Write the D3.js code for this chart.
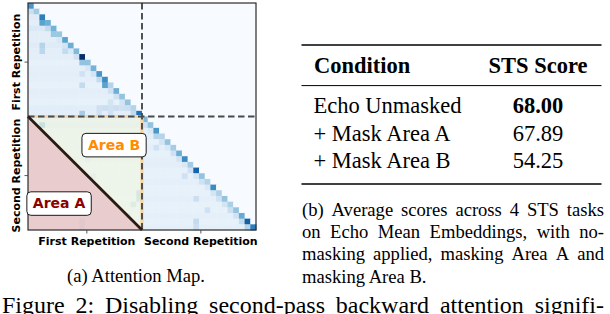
<!DOCTYPE html>
<html><head><meta charset="utf-8">
<script src="https://cdn.jsdelivr.net/npm/d3@7"></script>
<style>html,body{margin:0;padding:0;background:#fff} svg{display:block}</style>
</head><body>
<svg id="c" width="610" height="314"></svg>
<script>
// ---------------- data ----------------
const nTokens = 40;            // 20 tokens per repetition
const diagFirst  = [0.60,0.36,0.70,0.50,0.48,0.38,0.55,0.50,0.45,1.00,0.40,0.48,0.60,0.65,0.30,0.50,0.40,0.40,0.30,0.75];
const subDiagFirst = [0.22,0.12,0.55,0.25,0.38,0.15,0.18,0.15,0.20,0.40,0.15,0.18,0.25,0.55,0.20,0.20,0.18,0.22,0.25];
const diagSecond = [0.45,0.40,0.60,0.30,0.40,0.35,0.50,0.65,0.35,0.80,0.40,0.30,0.65,0.32,0.40,0.33,0.40,0.52,0.82,0.70];
const subDiagSecond = [0.20,0.15,0.30,0.18,0.15,0.20,0.18,0.15,0.20,0.18,0.20,0.15,0.18,0.20,0.18,0.22,0.20,0.25,0.30];
const faintFirst  = [0,0.20,0.12,0.10,0.14,0.10,0.10,0.12,0.10,0.10,0.08,0.09,0.10,0.09,0.08,0.10,0.09,0.08,0.11,0.10];
const faintSecond = [0.10,0.12,0.09,0.10,0.08,0.09,0.08,0.09,0.10,0.08,0.08,0.09,0.08,0.08,0.09,0.08,0.08,0.09,0.08,0.09];
const faintCross  = [0.10,0.12,0.08,0.08,0.08,0.08,0.07,0.08,0.07,0.07,0.07,0.07,0.07,0.07,0.06,0.07,0.07,0.06,0.07,0.07];
const extraCells = [
  [7,2,0.30],[8,2,0.28],[8,6,0.25],[12,9,0.20],[14,9,0.25],[19,9,0.35],[17,14,0.18],
  [18,12,0.20],[18,13,0.22],[18,14,0.20],[18,15,0.22],[18,16,0.20],[19,12,0.20],[19,14,0.20],
  [25,22,0.20],[30,27,0.20],[34,29,0.22],[36,31,0.20],[38,29,0.25],[39,29,0.22],
  [21,2,0.38],[27,10,0.15],[30,11,0.15],[33,19,0.30],[34,19,0.28],[35,18,0.22],[37,17,0.20],[38,9,0.30],[39,9,0.28]
];
const tickIndex  = [10, 30];
const tickLabels = ["First Repetition", "Second Repetition"];
const conditions = ["Echo Unmasked", "+ Mask Area A", "+ Mask Area B"];
const stsScores  = [68.00, 67.89, 54.25];
const tableHeader = ["Condition", "STS Score"];
const captionA = "(a) Attention Map.";
const captionB = ["(b) Average scores across 4 STS tasks",
                  "on Echo Mean Embeddings, with no-",
                  "masking applied, masking Area A and",
                  "masking Area B."];
const figureLine = "Figure 2: Disabling second-pass backward attention signifi-";

// ---------------- matrix ----------------
const half = nTokens / 2;
const cells = [];
for (let r = 0; r < nTokens; r++) {
  for (let c = 0; c < nTokens; c++) {
    let v = 0;
    if (c <= r) {
      if (r < half) {
        v = c === r ? diagFirst[r] : c === r - 1 ? subDiagFirst[r - 1] : faintFirst[r];
      } else if (c >= half) {
        const rr = r - half, cc = c - half;
        v = cc === rr ? diagSecond[rr] : cc === rr - 1 ? subDiagSecond[rr - 1] : faintSecond[rr];
      } else {
        v = faintCross[r - half];
      }
    }
    cells.push({r, c, v});
  }
}
extraCells.forEach(([r, c, v]) => { cells[r * nTokens + c].v = v; });

// ---------------- drawing ----------------
const svg = d3.select("#c");
const L = 28, R = 256, T = 3, B = 230;
const idx = d3.range(nTokens);
const x = d3.scaleBand().domain(idx).range([L, R]);
const y = d3.scaleBand().domain(idx).range([T, B]);
const xe = d3.scaleLinear().domain([0, nTokens]).range([L, R]);
const ye = d3.scaleLinear().domain([0, nTokens]).range([T, B]);
const color = d3.scaleSequential(d3.interpolateBlues).domain([0, 1]);

const hm = svg.append("g");
hm.selectAll("rect").data(cells).join("rect")
  .attr("x", d => x(d.c)).attr("y", d => y(d.r))
  .attr("width", x.bandwidth() + 0.4).attr("height", y.bandwidth() + 0.4)
  .attr("fill", d => color(d.v));

// Area B (whole cross block) and Area A (lower-left triangle)
svg.append("rect")
  .attr("x", xe(0)).attr("y", ye(half)).attr("width", xe(half) - xe(0)).attr("height", ye(nTokens) - ye(half))
  .attr("fill", "#f1f6dc").attr("opacity", 0.55);
svg.append("path")
  .attr("d", d3.line()([[xe(0), ye(half)], [xe(half), ye(nTokens)], [xe(0), ye(nTokens)]]) + "Z")
  .attr("fill", "#e6b8bf").attr("opacity", 0.66);

// peach border of block
svg.append("path")
  .attr("d", d3.line()([[xe(0), ye(half)], [xe(half), ye(half)], [xe(half), ye(nTokens)]]))
  .attr("fill", "none").attr("stroke", "#f7d6a6").attr("stroke-width", 3.2);

// dashed separators
svg.append("line").attr("x1", xe(half)).attr("x2", xe(half)).attr("y1", ye(0)).attr("y2", ye(nTokens))
  .attr("stroke", "#4a4a4a").attr("stroke-width", 1.9).attr("stroke-dasharray", "6.5,3.5");
svg.append("line").attr("x1", xe(0)).attr("x2", xe(nTokens)).attr("y1", ye(half)).attr("y2", ye(half))
  .attr("stroke", "#4a4a4a").attr("stroke-width", 1.9).attr("stroke-dasharray", "6.5,3.5");

// diagonal boundary between Area A and B
svg.append("line").attr("x1", xe(0)).attr("y1", ye(half)).attr("x2", xe(half)).attr("y2", ye(nTokens))
  .attr("stroke", "#2a1a12").attr("stroke-width", 2.8);

// spines
svg.append("rect").attr("x", L).attr("y", T).attr("width", R - L).attr("height", B - T)
  .attr("fill", "none").attr("stroke", "#2b2b2b").attr("stroke-width", 1.2);

// ticks + tick labels
const tickFont = "'DejaVu Sans', sans-serif";
tickIndex.forEach((t, i) => {
  const px = x(t) + x.bandwidth() / 2 - 1;
  const py = y(t) + y.bandwidth() / 2 - 0.5;
  svg.append("line").attr("x1", px).attr("x2", px).attr("y1", B).attr("y2", B + 3.5).attr("stroke", "#444").attr("stroke-width", 0.9);
  svg.append("line").attr("x1", L - 3.5).attr("x2", L).attr("y1", py).attr("y2", py).attr("stroke", "#444").attr("stroke-width", 0.9);
  svg.append("text").attr("x", px).attr("y", 245.3).attr("text-anchor", "middle")
    .attr("font-family", tickFont).attr("font-weight", "bold").attr("font-size", 11).text(tickLabels[i]);
  svg.append("text").attr("transform", `translate(20.3,${py}) rotate(-90)`).attr("text-anchor", "middle")
    .attr("font-family", tickFont).attr("font-weight", "bold").attr("font-size", 11).text(tickLabels[i]);
});

// area labels
function areaLabel(cx, cy, label, col) {
  const g = svg.append("g");
  const t = g.append("text").attr("x", cx).attr("y", cy + 5).attr("text-anchor", "middle")
    .attr("font-family", tickFont).attr("font-weight", "bold").attr("font-size", 14).attr("fill", col).text(label);
  const w = t.node().getComputedTextLength();
  g.insert("rect", "text").attr("x", cx - w / 2 - 6).attr("y", cy - 11.5).attr("width", w + 12).attr("height", 23.5)
    .attr("rx", 4).attr("fill", "#fff").attr("stroke", "#1a1a1a").attr("stroke-width", 1);
}
areaLabel(xe(15.1), ye(25.0), "Area B", "#ff8c00");
areaLabel(xe(5.45), ye(35.3), "Area A", "#8b0000");

// ---------------- table ----------------
const serif = "'Liberation Serif', 'Times New Roman', serif";
const tx0 = 301.5, tx1 = 601.5, col2 = 538;
svg.append("line").attr("x1", tx0).attr("x2", tx1).attr("y1", 45).attr("y2", 45).attr("stroke", "#000").attr("stroke-width", 1.6);
svg.append("line").attr("x1", tx0).attr("x2", tx1).attr("y1", 85.6).attr("y2", 85.6).attr("stroke", "#000").attr("stroke-width", 1);
svg.append("line").attr("x1", tx0).attr("x2", tx1).attr("y1", 184).attr("y2", 184).attr("stroke", "#000").attr("stroke-width", 1.6);
svg.append("text").attr("x", 314).attr("y", 73.3).attr("font-family", serif).attr("font-weight", "bold").attr("font-size", 22.5).text(tableHeader[0]);
svg.append("text").attr("x", col2).attr("y", 73.3).attr("text-anchor", "middle").attr("font-family", serif).attr("font-weight", "bold").attr("font-size", 22.5).text(tableHeader[1]);
const rowY = [112.7, 140.7, 168.4];
const best = d3.maxIndex(stsScores);
conditions.forEach((c, i) => {
  svg.append("text").attr("x", 313.5).attr("y", rowY[i]).attr("font-family", serif).attr("font-size", 22.5).text(c);
  svg.append("text").attr("x", col2).attr("y", rowY[i]).attr("text-anchor", "middle").attr("font-family", serif)
    .attr("font-weight", i === best ? "bold" : "normal").attr("font-size", 22.5).text(d3.format(".2f")(stsScores[i]));
});

// ---------------- captions ----------------
function justified(text, x0, x1, yy, size) {
  const words = text.split(" ");
  const g = svg.append("g");
  const nodes = words.map(w => g.append("text").attr("y", yy).attr("font-family", serif).attr("font-size", size).text(w));
  const widths = nodes.map(n => n.node().getComputedTextLength());
  const gap = (x1 - x0 - d3.sum(widths)) / (words.length - 1);
  let cx = x0;
  nodes.forEach((n, i) => { n.attr("x", cx); cx += widths[i] + gap; });
}
svg.append("text").attr("x", 136).attr("y", 282).attr("text-anchor", "middle").attr("font-family", serif).attr("font-size", 18.6).text(captionA);
const capY = [216, 238.2, 260.3, 282.5];
captionB.forEach((line, i) => {
  if (i < captionB.length - 1) justified(line, 302, 604, capY[i], 18.6);
  else svg.append("text").attr("x", 302).attr("y", capY[i]).attr("font-family", serif).attr("font-size", 18.6).text(line);
});
justified(figureLine, 2, 604, 313.2, 24);
</script>
</body></html>
